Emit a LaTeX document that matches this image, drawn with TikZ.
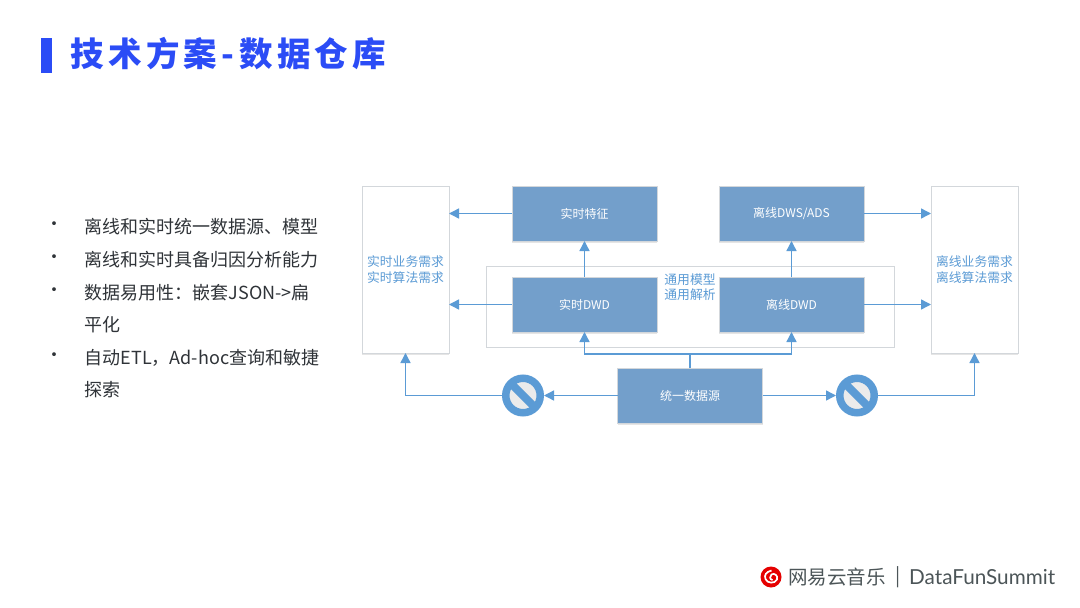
\documentclass[tikz,border=0pt]{standalone}
\usepackage{fontspec}
\setmainfont{Noto Sans CJK SC}
\newfontfamily\brandfont{Lato}
\usetikzlibrary{arrows.meta, positioning, shadows}

\definecolor{boxblue}{HTML}{739FCB}
\definecolor{linkblue}{HTML}{5B9BD5}
\definecolor{edgegrey}{HTML}{D3D7DB}
\definecolor{titleblue}{HTML}{2B4CF6}
\definecolor{bodyink}{HTML}{2F3338}
\definecolor{footink}{HTML}{4C5558}

\begin{document}
\begin{tikzpicture}[x=1pt,y=-1pt,
softshadow/.style={drop shadow={shadow xshift=0pt,shadow yshift=-1.5pt,fill=black,opacity=.10}},
layerbox/.style={draw=edgegrey,line width=.8pt,fill=boxblue,text=white,font=\fontsize{12}{14}\selectfont,minimum width=145pt,minimum height=55pt,inner sep=0pt,outer sep=0pt,softshadow},
needbox/.style={draw=edgegrey,line width=1pt,fill=white,text=linkblue,font=\fontsize{12.8}{15.5}\selectfont,align=center,minimum width=87pt,minimum height=167pt,inner sep=0pt,outer sep=0pt,softshadow},
nosign/.style={circle,draw=linkblue,line width=7.5pt,fill=white!92!black,minimum size=34.5pt,inner sep=0pt,outer sep=3.75pt,path picture={\draw[linkblue,line width=8pt] (path picture bounding box.north west) -- (path picture bounding box.south east);},softshadow},
flow/.style={draw=linkblue,line width=1.4pt,-{Triangle[length=10pt,width=10pt]}},
pointitem/.style={anchor=west,align=left,text=bodyink,inner sep=0pt,font=\fontsize{18}{32.6}\selectfont}]
\useasboundingbox[fill=white] (0,0) rectangle (1080,608);
\fill[titleblue] (41,38) rectangle (52,73);
\node[anchor=west,inner sep=0pt,text=titleblue,font=\fontsize{33.5}{38}\selectfont\bfseries\addfontfeature{LetterSpace=13.2}] (heading) at (70,54){技术方案-数据仓库};
\node[pointitem] (b1) at (45,226.5){•}; \node[pointitem] (p1) at (84.5,226.5){离线和实时统一数据源、模型};
\node[pointitem] (b2) at (45,259.5){•}; \node[pointitem] (p2) at (84.5,259.5){离线和实时具备归因分析能力};
\node[pointitem] (b3) at (45,292.5){•}; \node[pointitem] (p3) at (84.5,308.5){数据易用性：嵌套JSON->扁\\平化};
\node[pointitem] (b4) at (45,357.5){•}; \node[pointitem] (p4) at (84.5,373.5){自动ETL，Ad-hoc查询和敏捷\\探索};
\node[draw=edgegrey,line width=1pt,fill=white,minimum width=408pt,minimum height=81pt,inner sep=0pt,outer sep=0pt] (shared) at (690,306.5){};
\node[needbox] (rtneed) at (405.5,269.5){实时业务需求\\实时算法需求};
\node[needbox] (offneed) at (974.5,269.5){离线业务需求\\离线算法需求};
\node[layerbox] (rtfeat) at (584.5,213.5){实时特征};
\node[layerbox, below=36pt of rtfeat] (rtdwd){实时DWD};
\node[layerbox] (offads) at (791.5,213.5){离线DWS/ADS};
\node[layerbox, below=36pt of offads] (offdwd){离线DWD};
\node[layerbox] (source) at (690,395.5){统一数据源};
\node[text=linkblue,align=center,inner sep=0pt,font=\fontsize{12.8}{15.5}\selectfont] (sharedtag) at (690,287){通用模型\\通用解析};
\node[nosign] (stopl) at (523,395.5){};
\node[nosign] (stopr) at (857,395.5){};
\draw[flow] (rtfeat.west) -- (rtfeat.west -| rtneed.east);
\draw[flow] (rtdwd.west) -- (rtdwd.west -| rtneed.east);
\draw[flow] (offads.east) -- (offads.east -| offneed.west);
\draw[flow] (offdwd.east) -- (offdwd.east -| offneed.west);
\draw[flow] (rtdwd.north) -- (rtfeat.south);
\draw[flow] (offdwd.north) -- (offads.south);
\draw[flow] (source.north) -- ++(0,-14) -| (rtdwd.south);
\draw[flow] (source.north) -- ++(0,-14) -| (offdwd.south);
\draw[flow] (source.west) -- (stopl.east);
\draw[flow] (source.east) -- (stopr.west);
\draw[flow] (stopl.west) -| (rtneed.south);
\draw[flow] (stopr.east) -| (offneed.south);
% footer brand
\node[circle,fill=red!90!black,minimum size=21pt,inner sep=0pt] (brandlogo) at (771,577){};
\draw[white,line width=1.7pt] (771.5,570.5) .. controls (766,572) and (764,575) .. (765.5,579) .. controls (767,583.5) and (775,584) .. (777,579.5) .. controls (778.5,575.5) and (774,572.5) .. (771.5,574.5) .. controls (769.5,576) and (769.5,579.5) .. (772.5,580);
\node[anchor=west,inner sep=0pt,text=footink,font=\fontsize{19.5}{22}\selectfont] (brandcn) at (788,577){网易云音乐};
\node[anchor=center,inner sep=0pt,text=footink,font=\fontsize{19}{22}\selectfont] (brandbar) at (898,577){|};
\node[anchor=west,inner sep=0pt,text=footink,font=\brandfont\fontsize{20.7}{24}\selectfont] (brandname) at (909,577){DataFunSummit};
\end{tikzpicture}
\end{document}
